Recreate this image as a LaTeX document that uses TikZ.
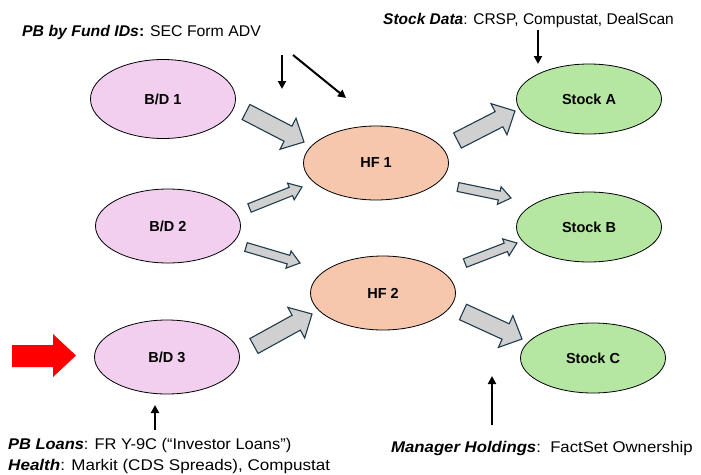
\documentclass[tikz,border=0pt]{standalone}
\usepackage{fontspec}
\setmainfont{Liberation Sans}
\usetikzlibrary{calc,arrows.meta,shapes.geometric}
\definecolor{bdpink}{HTML}{F2CEEF}
\definecolor{hforange}{HTML}{F6C6AD}
\definecolor{stgreen}{HTML}{B5E6A2}
\definecolor{blockgray}{HTML}{D0D0D0}
\definecolor{blockedge}{HTML}{1F3A4A}
\definecolor{redarrow}{HTML}{FF0000}
\tikzset{
  ent/.style={ellipse, draw=black, line width=0.8pt, minimum width=145pt, minimum height=74pt, inner sep=0pt, font=\bfseries\fontsize{14.5}{17}\selectfont},
  bdnode/.style={ent, fill=bdpink},
  hfnode/.style={ent, fill=hforange},
  stnode/.style={ent, fill=stgreen},
  blockarr/.style={fill=blockgray, draw=blockedge, line width=1.1pt, line join=miter},
  srcarr/.style={-{Triangle[length=8pt,width=8pt]}, line width=2pt, black},
  lbl/.style={anchor=base west, inner sep=0pt, transform shape, font=\fontsize{15.5}{18}\selectfont},
}
% #1 start, #2 end, #3 shaft half width, #4 head half width, #5 head length
\newcommand\blockarrow[5]{%
  \coordinate (bah) at ($(#2)!#5!(#1)$);
  \draw[blockarr] ($(#1)!#3!90:(#2)$) -- ($(bah)!#3!-90:(#1)$) -- ($(bah)!#4!-90:(#1)$)
    -- (#2) -- ($(bah)!#4!90:(#1)$) -- ($(bah)!#3!90:(#1)$) -- ($(#1)!#3!-90:(#2)$) -- cycle;
}
\begin{document}
\begin{tikzpicture}[x=1pt,y=-1pt]
\useasboundingbox (0,0) rectangle (701,474);

% entities
\node[bdnode, minimum height=79pt] (bd1) at (163,99) {B/D 1};
\node[bdnode] (bd2) at (168,226) {B/D 2};
\node[bdnode] (bd3) at (167,357) {B/D 3};
\node[hfnode] (hf1) at (376,163) {HF 1};
\node[hfnode] (hf2) at (383,293) {HF 2};
\node[stnode, minimum height=70pt] (sa) at (589,99) {Stock A};
\node[stnode, minimum height=70pt] (sb) at (589,227) {Stock B};
\node[stnode, minimum height=70pt] (sc) at (593,358) {Stock C};

% block arrow end points
\coordinate (a1s) at (246,112);   \coordinate (a1e) at (304,142);
\coordinate (a2s) at (249.5,208); \coordinate (a2e) at (302,187);
\coordinate (a3s) at (246,247);   \coordinate (a3e) at (300,263);
\coordinate (a4s) at (254,346);   \coordinate (a4e) at (312,314);
\coordinate (a5s) at (457.5,140.5); \coordinate (a5e) at (515,111);
\coordinate (a6s) at (458,187);   \coordinate (a6e) at (511,198);
\coordinate (a7s) at (465,263);   \coordinate (a7e) at (517,243);
\coordinate (a8s) at (463,312);   \coordinate (a8e) at (522,339);

\blockarrow{a1s}{a1e}{8.5pt}{17.5pt}{18pt}
\blockarrow{a2s}{a2e}{4.5pt}{9pt}{12pt}
\blockarrow{a3s}{a3e}{4.5pt}{9pt}{12pt}
\blockarrow{a4s}{a4e}{8.5pt}{17.5pt}{18pt}
\blockarrow{a5s}{a5e}{8.5pt}{17.5pt}{18pt}
\blockarrow{a6s}{a6e}{4.5pt}{9pt}{12pt}
\blockarrow{a7s}{a7e}{4.5pt}{9pt}{12pt}
\blockarrow{a8s}{a8e}{8.5pt}{17.5pt}{18pt}

% red arrow
\fill[redarrow] (12,345) -- (53,345) -- (53,334) -- (76,355.5) -- (53,377) -- (53,367) -- (12,367) -- cycle;

% labels
\node[lbl, xscale=1.02] (lfund) at (22,36) {\textbf{\textit{PB by Fund IDs}:} SEC Form ADV};
\node[lbl] (lstock) at (383,24) {\textbf{\textit{Stock Data}}: CRSP, Compustat, DealScan};
\node[lbl, xscale=1.06] (lloans) at (8,449) {\textbf{\textit{PB Loans}}: FR Y-9C (“Investor Loans”)};
\node[lbl, xscale=1.10] (lhealth) at (8,470) {\textbf{\textit{Health}}: Markit (CDS Spreads), Compustat};
\node[lbl, xscale=1.08] (lmgr) at (391,452) {\textbf{\textit{Manager Holdings}}:\ \ FactSet Ownership};

% source arrows
\coordinate (f1s) at (282,55);  \coordinate (f1e) at (282,89);
\coordinate (f2s) at (293,55);  \coordinate (f2e) at (346,98);
\coordinate (s1s) at (538,30);  \coordinate (s1e) at (538,64);
\coordinate (b3s) at (155,430); \coordinate (b3e) at (155,405);
\coordinate (m1s) at (492,425); \coordinate (m1e) at (492,376);
\draw[srcarr] (f1s) -- (f1e);
\draw[srcarr] (f2s) -- (f2e);
\draw[srcarr] (s1s) -- (s1e);
\draw[srcarr] (b3s) -- (b3e);
\draw[srcarr] (m1s) -- (m1e);
\end{tikzpicture}
\end{document}
